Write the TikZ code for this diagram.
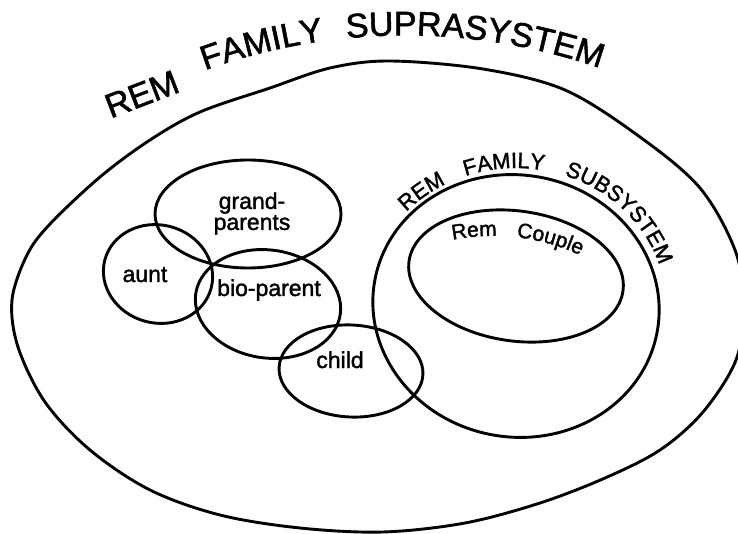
\documentclass[tikz,border=0pt]{standalone}
\usepackage{fontspec}
\setmainfont{Liberation Sans}[FakeBold=1.6]
\usetikzlibrary{decorations.text,calc}
\newcommand\supfont{\fontsize{34}{36}\selectfont}
\newcommand\subsysfont{\fontsize{22}{24}\selectfont}
\newcommand\couplefont{\fontsize{21}{23}\selectfont}
\begin{document}
\begin{tikzpicture}[x=1pt,y=1pt,
  ring/.style={line width=2.9pt, line join=round},
  lbl/.style={font=\fontsize{23}{21}\selectfont, align=center, inner sep=0pt},
  arctext/.style={decorate, decoration={text along path, text align=center, text={#1}}}
]
\useasboundingbox (0,0) rectangle (738,-534);
\fill[white] (0,0) rectangle (738,-534);

% outer suprasystem boundary
\draw[ring] plot[smooth cycle, tension=0.55] coordinates {
 (390,-61) (483,-69) (565,-90) (640,-137) (700,-188) (735,-250) (744,-305)
 (736,-360) (703,-412) (660,-450) (605,-478) (540,-503) (465,-523) (383,-532)
 (300,-528) (220,-515) (150,-490) (90,-450) (45,-402) (18,-347) (12,-300)
 (27,-255) (50,-224) (100,-177) (150,-140) (200,-112) (270,-88) (330,-68)};

% title along arc
\coordinate (tc) at (405.4,-627.3);
\node[font=\supfont, inner sep=0pt, anchor=base, rotate=21] (trem) at (146,-105) {REM};
\path[arctext={|\supfont|FAMILY}] ($(tc)+(113.85:592pt)$) arc[start angle=113.85, end angle=93.85, radius=592pt];
\path[arctext={|\supfont|SUPRASYSTEM}] ($(tc)+(99.25:592pt)$) arc[start angle=99.25, end angle=67.25, radius=592pt];

% left cluster
\draw[ring] (248,-214) ellipse[x radius=93pt, y radius=54pt];
\draw[ring, rotate around={-15:(158,-274)}] (158,-274) ellipse[x radius=55pt, y radius=49pt];
\draw[ring, rotate around={-8:(268,-304)}] (268,-304) ellipse[x radius=73pt, y radius=54pt];
\draw[ring, rotate around={-3:(351,-371)}] (351,-371) ellipse[x radius=72pt, y radius=46pt];

\node[lbl] (gp) at (252,-213.5) {grand-\\parents};
\node[lbl, anchor=base] (aunt) at (145,-282) {aunt};
\node[lbl, anchor=base] (bio) at (269,-296) {bio-parent};
\node[lbl, anchor=base] (child) at (340,-368) {child};

% subsystem
\draw[ring, rotate around={-10:(516,-306)}] (516,-306) ellipse[x radius=143.5pt, y radius=131pt];
\coordinate (sc) at (516,-306);
\path[arctext={|\subsysfont|REM}] ($(sc)+(141.5:150pt and 138pt)$) arc[start angle=141.5, end angle=113.5, x radius=150pt, y radius=138pt];
\path[arctext={|\subsysfont|FAMILY}] ($(sc)+(114.5:150pt and 138pt)$) arc[start angle=114.5, end angle=74.5, x radius=150pt, y radius=138pt];
\path[arctext={|\subsysfont|SUBSYSTEM}] ($(sc)+(76:150pt and 138pt)$) arc[start angle=76, end angle=12, x radius=150pt, y radius=138pt];

% rem couple
\draw[ring, rotate around={-8:(516,-276)}] (516,-276) ellipse[x radius=108pt, y radius=65pt];
\coordinate (cc) at (492.8,-443.9);
\path[arctext={|\couplefont|Rem}] ($(cc)+(105:208pt)$) arc[start angle=105, end angle=85, radius=208pt];
\path[arctext={|\couplefont|Couple}] ($(cc)+(88.3:208pt)$) arc[start angle=88.3, end angle=60.3, radius=208pt];
\end{tikzpicture}
\end{document}
